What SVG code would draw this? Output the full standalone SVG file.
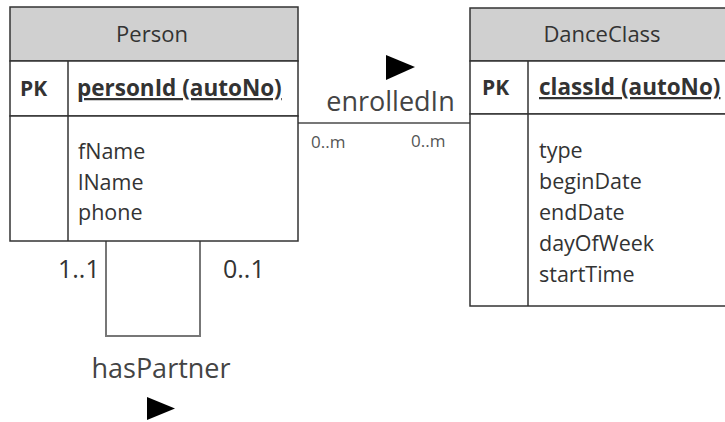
<svg xmlns="http://www.w3.org/2000/svg" width="725" height="422" viewBox="0 0 725 422">
<style>
.box{fill:#fff;stroke:#333;stroke-width:1.5}
.hdr{fill:#d0d0d0;stroke:#333;stroke-width:1.5}
.ln{stroke:#333;stroke-width:1.5;fill:none}
.t{font-family:"Open Sans","Noto Sans",sans-serif;fill:#333}
.title{font-size:22px}
.pk{font-size:21px;font-weight:bold}
.key{font-size:22.5px;font-weight:bold;text-decoration:underline}
.attr{font-size:21.5px}
.conn{stroke:#777;stroke-width:2;fill:none}
.card{font-family:"Open Sans","Noto Sans",sans-serif;fill:#555;font-size:17px}
.lbl{font-family:"Open Sans","Noto Sans",sans-serif;fill:#444;font-size:27px}
</style>
<g id="connectors">
<line class="conn" x1="298" y1="123" x2="470" y2="123"/>
<polyline class="conn" points="106,238 106,336 200,336 200,238"/>
<polygon points="386,55 415,67 386,80" fill="#000"/>
<polygon points="147,397 175,408.5 147,420" fill="#000"/>
<text class="lbl" x="390.5" y="111" text-anchor="middle">enrolledIn</text>
<text class="card" x="311" y="148">0..m</text>
<text class="card" x="411" y="147">0..m</text>
<text class="t" x="58" y="278" font-size="25">1..1</text>
<text class="t" x="223" y="278" font-size="25">0..1</text>
<text class="lbl" x="161" y="378" text-anchor="middle">hasPartner</text>
</g>
<g id="Person">
<rect class="hdr" x="10" y="7" width="288" height="54"/>
<rect class="box" x="10" y="61" width="288" height="55"/>
<rect class="box" x="10" y="116" width="288" height="125"/>
<line class="ln" x1="68" y1="61" x2="68" y2="241"/>
<text class="t title" x="152" y="42" text-anchor="middle">Person</text>
<text class="t pk" x="20" y="96">PK</text>
<text class="t key" x="77" y="96">personId (autoNo)</text>
<text class="t attr" x="78" y="159">fName</text>
<text class="t attr" x="78" y="190">lName</text>
<text class="t attr" x="78" y="220">phone</text>
</g>
<g id="DanceClass">
<rect class="hdr" x="470" y="8" width="262" height="53"/>
<rect class="box" x="470" y="61" width="262" height="53"/>
<rect class="box" x="470" y="114" width="262" height="192"/>
<line class="ln" x1="528" y1="61" x2="528" y2="306"/>
<text class="t title" x="602" y="42" text-anchor="middle">DanceClass</text>
<text class="t pk" x="482" y="95">PK</text>
<text class="t key" x="539" y="95">classId (autoNo)</text>
<text class="t attr" x="539" y="158">type</text>
<text class="t attr" x="539" y="189">beginDate</text>
<text class="t attr" x="539" y="220">endDate</text>
<text class="t attr" x="539" y="251">dayOfWeek</text>
<text class="t attr" x="539" y="282">startTime</text>
</g>
</svg>
